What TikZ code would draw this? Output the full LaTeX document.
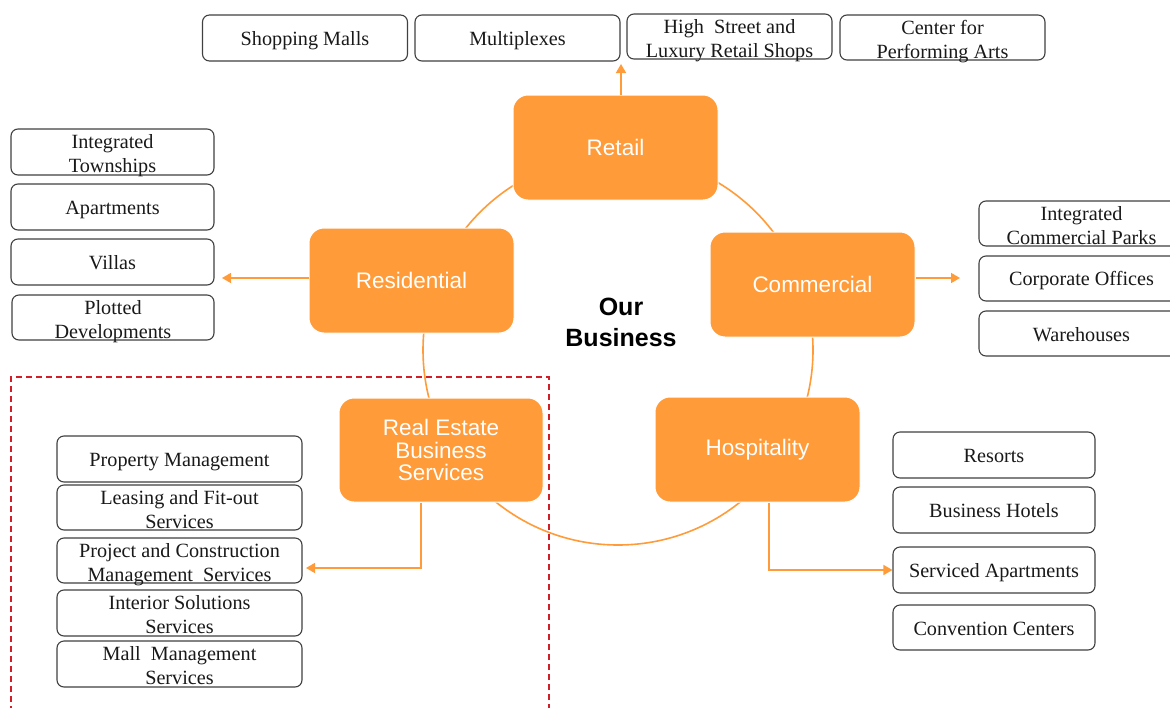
\documentclass[tikz,border=0pt]{standalone}
\usepackage{fontspec}
\setmainfont{Liberation Serif}
\setsansfont{Liberation Sans}
\usetikzlibrary{arrows.meta}
\definecolor{biz}{RGB}{255,155,56}
\definecolor{edge}{RGB}{64,64,64}
\definecolor{dred}{RGB}{210,30,40}
\newcommand\wsA{\rule[-4pt]{0pt}{23pt}}
\newcommand\wsB{\rule{0pt}{17pt}}
\newcommand\wsL[1]{\smash{#1}}
\begin{document}
\begin{tikzpicture}[x=1pt,y=-1pt,
  wbox/.style={draw=edge,line width=1.1pt,rounded corners=7pt,fill=white,inner sep=0pt,
    minimum width=205pt,minimum height=46pt,align=center,text=black!90,
    font=\fontsize{20.2}{24}\selectfont},
  obox/.style={fill=biz,draw=white,line width=1pt,rounded corners=15pt,inner sep=0pt,
    minimum width=205pt,minimum height=105pt,align=center,text=white,
    font=\sffamily\fontsize{22.5}{22.5}\selectfont},
  ring/.style={draw=biz,line width=1.6pt},
  arr/.style={draw=biz,line width=1.6pt,-{Triangle[width=10pt,length=9pt]}}]
\useasboundingbox (0,0) rectangle (1170,707);
% dashed frame
\draw[dred,line width=1.6pt,dash pattern=on 6pt off 4pt] (11,712) -- (11,377) -- (549,377) -- (549,712);
% ring
\draw[ring] (618,350) circle (195);
% central nodes
\node[obox] (retail) at (615.5,147.5) {Retail};
\node[obox] (resid) at (411.5,280.5) {Residential};
\node[obox] (comm) at (812.5,284.5) {Commercial};
\node[obox] (hosp) at (757.5,449.5) {Hospitality};
\node[obox,minimum width=204pt,minimum height=104pt] (rebs) at (441,450) {Real Estate\\Business\\Services};
\node[font=\sffamily\bfseries\fontsize{25}{31}\selectfont,align=center,inner sep=0pt] (our) at (621,322) {Our\\Business};
% retail
\node[wbox] (malls) at (305,38) {\wsA Shopping Malls};
\node[wbox] (multi) at (517.5,38) {\wsA Multiplexes};
\node[wbox,minimum height=45pt] (high) at (729.5,36.5) {\wsB High\ \ Street and\\\wsL{Luxury Retail Shops}};
\node[wbox,minimum height=45pt] (cpa) at (942.5,37.5) {\wsB Center for\\\wsL{Performing Arts}};
% residential
\node[wbox,minimum width=203pt] (town) at (112.5,152) {\wsB Integrated\\\wsL{Townships}};
\node[wbox,minimum width=203pt] (apt) at (112.5,207) {\wsA Apartments};
\node[wbox,minimum width=203pt] (villas) at (112.5,262) {\wsA Villas};
\node[wbox,minimum width=202pt,minimum height=45pt] (plot) at (113,317.5) {\wsB Plotted\\\wsL{Developments}};
% commercial
\node[wbox,minimum height=45pt] (icp) at (1081.5,223.5) {\wsB Integrated\\\wsL{Commercial Parks}};
\node[wbox,minimum height=45pt] (corp) at (1081.5,278.5) {\wsA Corporate Offices};
\node[wbox,minimum height=45pt] (ware) at (1081.5,333.5) {\wsA Warehouses};
% hospitality
\node[wbox,minimum width=202pt] (resorts) at (994,455) {\wsA Resorts};
\node[wbox,minimum width=202pt] (bh) at (994,510) {\wsA Business Hotels};
\node[wbox,minimum width=202pt] (sa) at (994,570) {\wsA Serviced Apartments};
\node[wbox,minimum width=202pt,minimum height=45pt] (cc) at (994,627.5) {\wsA Convention Centers};
% real estate business services
\node[wbox,minimum width=245pt] (pm) at (179.5,459) {\wsA Property Management};
\node[wbox,minimum width=245pt,minimum height=45pt] (lf) at (179.5,507.5) {\wsB Leasing and Fit-out\\\wsL{Services}};
\node[wbox,minimum width=245pt,minimum height=45pt] (pc) at (179.5,560.5) {\wsB Project and Construction\\\wsL{Management\ \ Services}};
\node[wbox,minimum width=245pt] (is) at (179.5,613) {\wsB Interior Solutions\\\wsL{Services}};
\node[wbox,minimum width=245pt] (mm) at (179.5,664) {\wsB Mall\ \ Management\\\wsL{Services}};
% connectors
\coordinate (retailend) at (621,64);
\coordinate (residend) at (222,278);
\coordinate (commend) at (960,278);
\coordinate (rebsend) at (306,568);
\draw[arr] ([xshift=5.5pt]retail.north) -- (retailend);
\draw[arr] (resid.west |- residend) -- (residend);
\draw[arr] (comm.east |- commend) -- (commend);
\draw[arr] ([xshift=11.5pt]hosp.south) |- (sa.west);
\draw[arr] ([xshift=-20pt]rebs.south) |- (rebsend);
\end{tikzpicture}
\end{document}
